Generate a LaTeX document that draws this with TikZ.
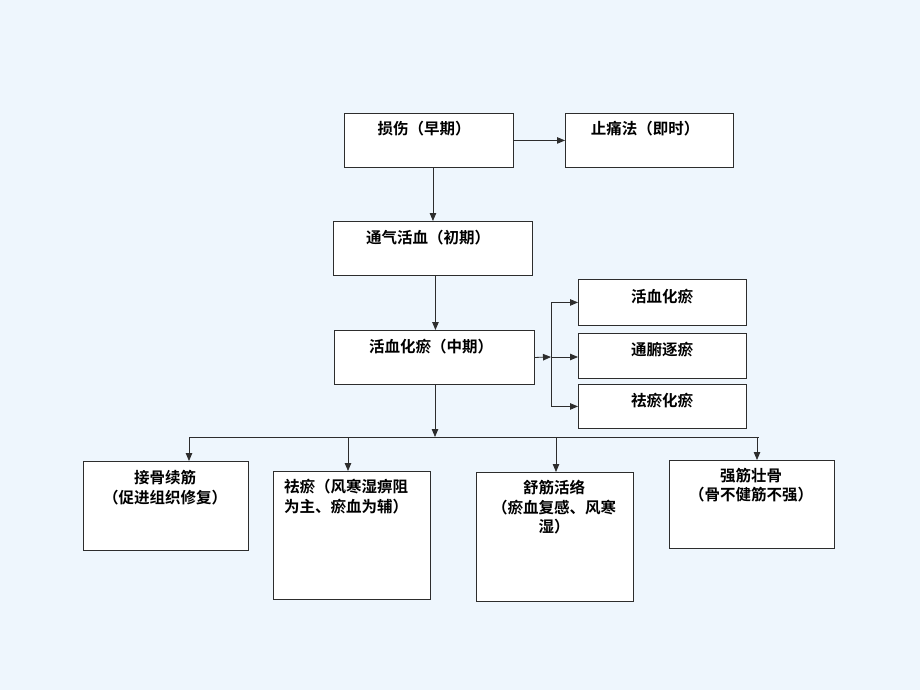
\documentclass[tikz,border=0pt]{standalone}
\usepackage{fontspec}
\newfontfamily\cjk{Noto Sans CJK SC}[BoldFont={Noto Sans CJK SC Bold}]
\usetikzlibrary{arrows.meta}
\definecolor{bg}{RGB}{238,246,253}
\definecolor{ln}{RGB}{45,45,45}
\tikzset{
 box/.style={draw=ln, line width=0.9pt, fill=white, inner sep=0pt, anchor=north west},
 txt/.style={font=\cjk\bfseries\fontsize{15.5}{19.5}\selectfont, anchor=center, inner sep=0pt, align=center, text=black},
 conn/.style={draw=ln, line width=0.8pt, -{Triangle[length=8pt,width=6.5pt]}},
 plain/.style={draw=ln, line width=0.8pt}
}
\begin{document}
\begin{tikzpicture}[x=1pt,y=-1pt]
\fill[bg] (0,0) rectangle (920,690);
\useasboundingbox (0,0) rectangle (920,690);
% boxes
\node[box, minimum width=169pt, minimum height=54pt] (a) at (344,113) {};
\node[box, minimum width=168pt, minimum height=54pt] (b) at (565,113) {};
\node[box, minimum width=199pt, minimum height=54pt] (c) at (333,221) {};
\node[box, minimum width=200pt, minimum height=54pt] (d) at (334,330) {};
\node[box, minimum width=168pt, minimum height=46pt] (e1) at (578,279) {};
\node[box, minimum width=168pt, minimum height=45pt] (e2) at (578,333) {};
\node[box, minimum width=168pt, minimum height=44pt] (e3) at (578,384) {};
\node[box, minimum width=165pt, minimum height=89pt] (f1) at (83,461) {};
\node[box, minimum width=157pt, minimum height=128pt] (f2) at (273,471) {};
\node[box, minimum width=157pt, minimum height=129pt] (f3) at (476,472) {};
\node[box, minimum width=165pt, minimum height=88pt] (f4) at (669,460) {};
% texts
\node[txt] (ta) at (424,129) {损伤（早期）};
\node[txt] (tb) at (645,129) {止痛法（即时）};
\node[txt] (tc) at (428,238) {通气活血（初期）};
\node[txt] (td) at (431,347) {活血化瘀（中期）};
\node[txt] (te1) at (662,297) {活血化瘀};
\node[txt] (te2) at (662,350) {通腑逐瘀};
\node[txt] (te3) at (662,401) {祛瘀化瘀};
\node[txt] (tf1) at (165,487.5) {接骨续筋\\（促进组织修复）};
\node[txt, align=left, anchor=west] (tf2) at (284,496.5) {祛瘀（风寒湿痹阻\\为主、瘀血为辅）};
\node[txt, text width=140pt] (tf3) at (554,507.5) {舒筋活络\\（瘀血复感、风寒\\湿）};
\node[txt] (tf4) at (751,485) {强筋壮骨\\（骨不健筋不强）};
% connectors
\draw[conn] (a.east) -- (b.west);
\draw[conn] (a.south -| c.north) -- (c.north);
\draw[conn] ([xshift=1pt]c.south -| d.north) -- ([xshift=1pt]d.north);
\coordinate (jn) at (551,357);
\draw[conn] (d.east) -- (jn);
\draw[plain] (jn |- e1.west) -- (jn |- e3.west);
\draw[conn] (jn |- e1.west) -- (e1.west);
\draw[conn] (jn) -- (jn -| e2.west);
\draw[conn] (jn |- e3.west) -- (e3.west);
\coordinate (bus) at (435,437);
\draw[conn] (d.south -| bus) -- (bus);
\coordinate (d1) at (189,437);
\coordinate (d2) at (348,437);
\coordinate (d3) at (556,437);
\coordinate (d4) at (757,437);
\coordinate (busr) at (759,437);
\draw[plain] (d1) -- (busr);
\draw[conn] (d1) -- (d1 |- f1.north);
\draw[conn] (d2) -- (d2 |- f2.north);
\draw[conn] (d3) -- (d3 |- f3.north);
\draw[conn] (d4) -- (d4 |- f4.north);
\end{tikzpicture}
\end{document}
